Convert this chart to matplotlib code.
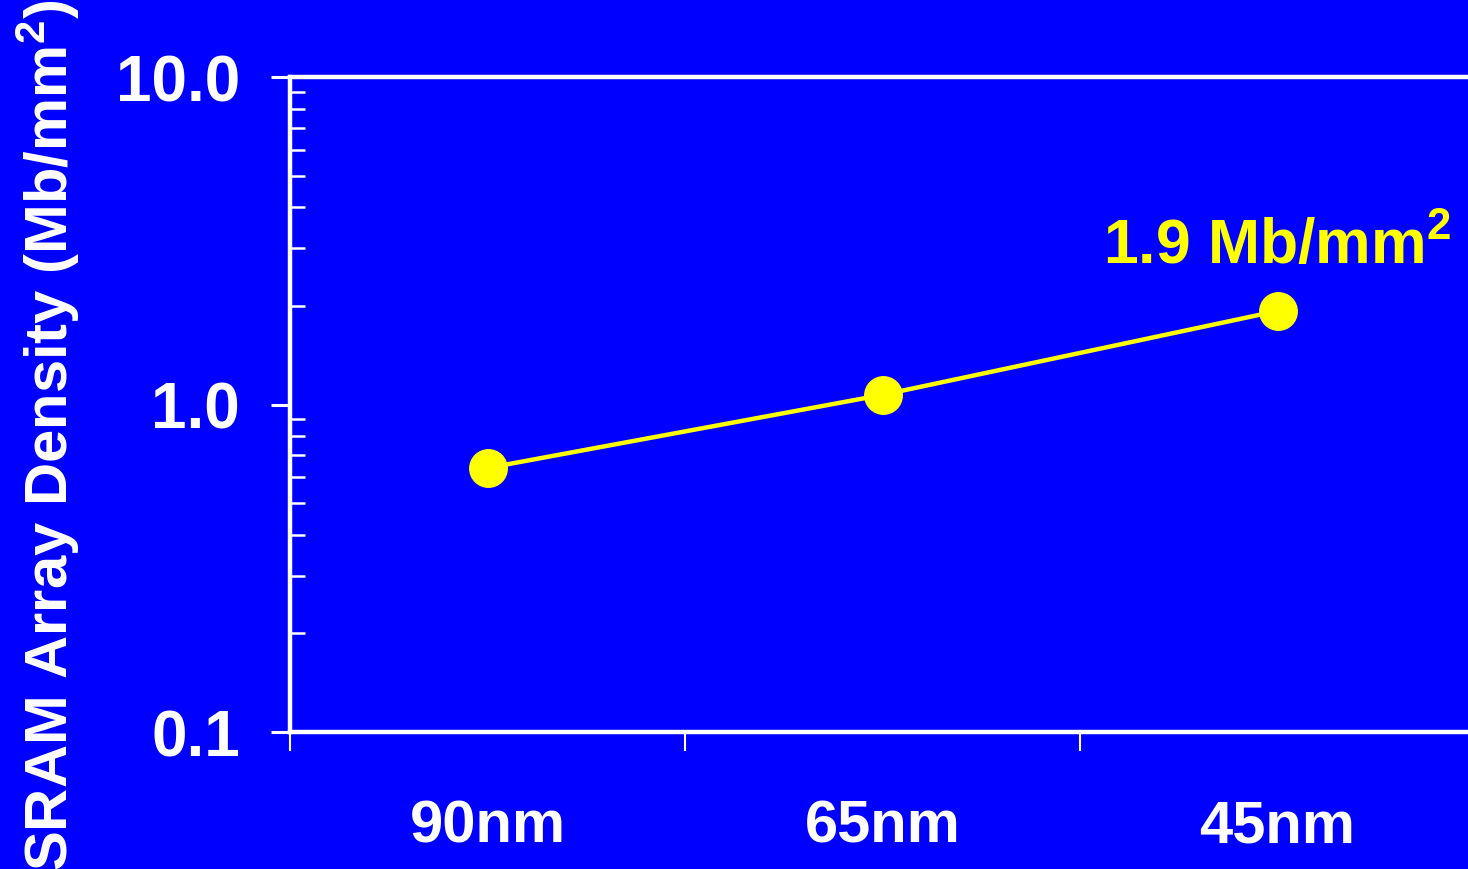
import matplotlib
matplotlib.use("Agg")
import matplotlib.pyplot as plt
from matplotlib.ticker import FixedLocator, LogLocator, NullFormatter

plt.rcParams['font.family'] = ['Liberation Sans', 'DejaVu Sans']
plt.rcParams['font.weight'] = 'bold'
plt.rcParams['mathtext.fontset'] = 'custom'
plt.rcParams['mathtext.rm'] = 'Liberation Sans:bold'
plt.rcParams['mathtext.bf'] = 'Liberation Sans:bold'
plt.rcParams['mathtext.it'] = 'Liberation Sans:bold'

categories = ["90nm", "65nm", "45nm"]
density = [0.64, 1.07, 1.93]
ytick_values = [0.1, 1.0, 10.0]
ytick_labels = ["0.1", "1.0", "10.0"]
annotation_text = r"1.9 Mb/mm$^{\mathbf{2}}$"
ylabel_text = r"SRAM Array Density (Mb/mm$^{\mathbf{2}}$)"

BLUE = "#0000FF"
YELLOW = "#FFFF00"
WHITE = "#FFFFFF"

fig = plt.figure(figsize=(14.68, 8.70), dpi=100, facecolor=BLUE)
ax = fig.add_axes([290/1468, 1-733/870, (1475-290)/1468, (733-78)/870])
ax.set_facecolor(BLUE)

x = list(range(len(categories)))
ax.plot(x, density, color=YELLOW, lw=3.2, marker='o', markersize=27,
        markerfacecolor=YELLOW, markeredgecolor=YELLOW, zorder=3, clip_on=False)

ax.set_yscale('log')
ax.set_ylim(0.1, 10)
ax.set_xlim(-0.5, 2.5)

ax.yaxis.set_major_locator(FixedLocator(ytick_values))
ax.set_yticklabels(ytick_labels)
ax.yaxis.set_minor_locator(LogLocator(base=10, subs=range(2, 10)))
ax.yaxis.set_minor_formatter(NullFormatter())

ax.set_xticks([-0.5, 0.5, 1.5, 2.5])
ax.set_xticklabels([])
ax.set_xticks(x, minor=True)
ax.set_xticklabels(categories, minor=True)

for s in ['left', 'bottom', 'top', 'right']:
    ax.spines[s].set_color(WHITE)
    ax.spines[s].set_linewidth(3.2)

ax.tick_params(axis='y', which='major', direction='out', length=14, width=2.2,
               colors=WHITE, labelsize=46, pad=22)
ax.tick_params(axis='y', which='minor', direction='in', length=11, width=1.8,
               colors=WHITE)
ax.tick_params(axis='x', which='major', direction='out', length=14, width=1.5,
               colors=WHITE)
ax.tick_params(axis='x', which='minor', length=0, labelsize=43, pad=48,
               colors=WHITE)
for lab in ax.get_yticklabels() + ax.get_xticklabels(minor=True):
    lab.set_fontweight('bold')

ax.annotate(annotation_text, xy=(x[-1], density[-1]), xytext=(0, 47),
            textcoords='offset points', ha='center', va='center',
            color=YELLOW, fontsize=45, fontweight='bold', annotation_clip=False)

fig.text(48/1468, 1-435/870, ylabel_text, rotation=90, ha='center', va='center',
         color=WHITE, fontsize=43, fontweight='bold')

fig.savefig("out.png", dpi=100, facecolor=BLUE)
